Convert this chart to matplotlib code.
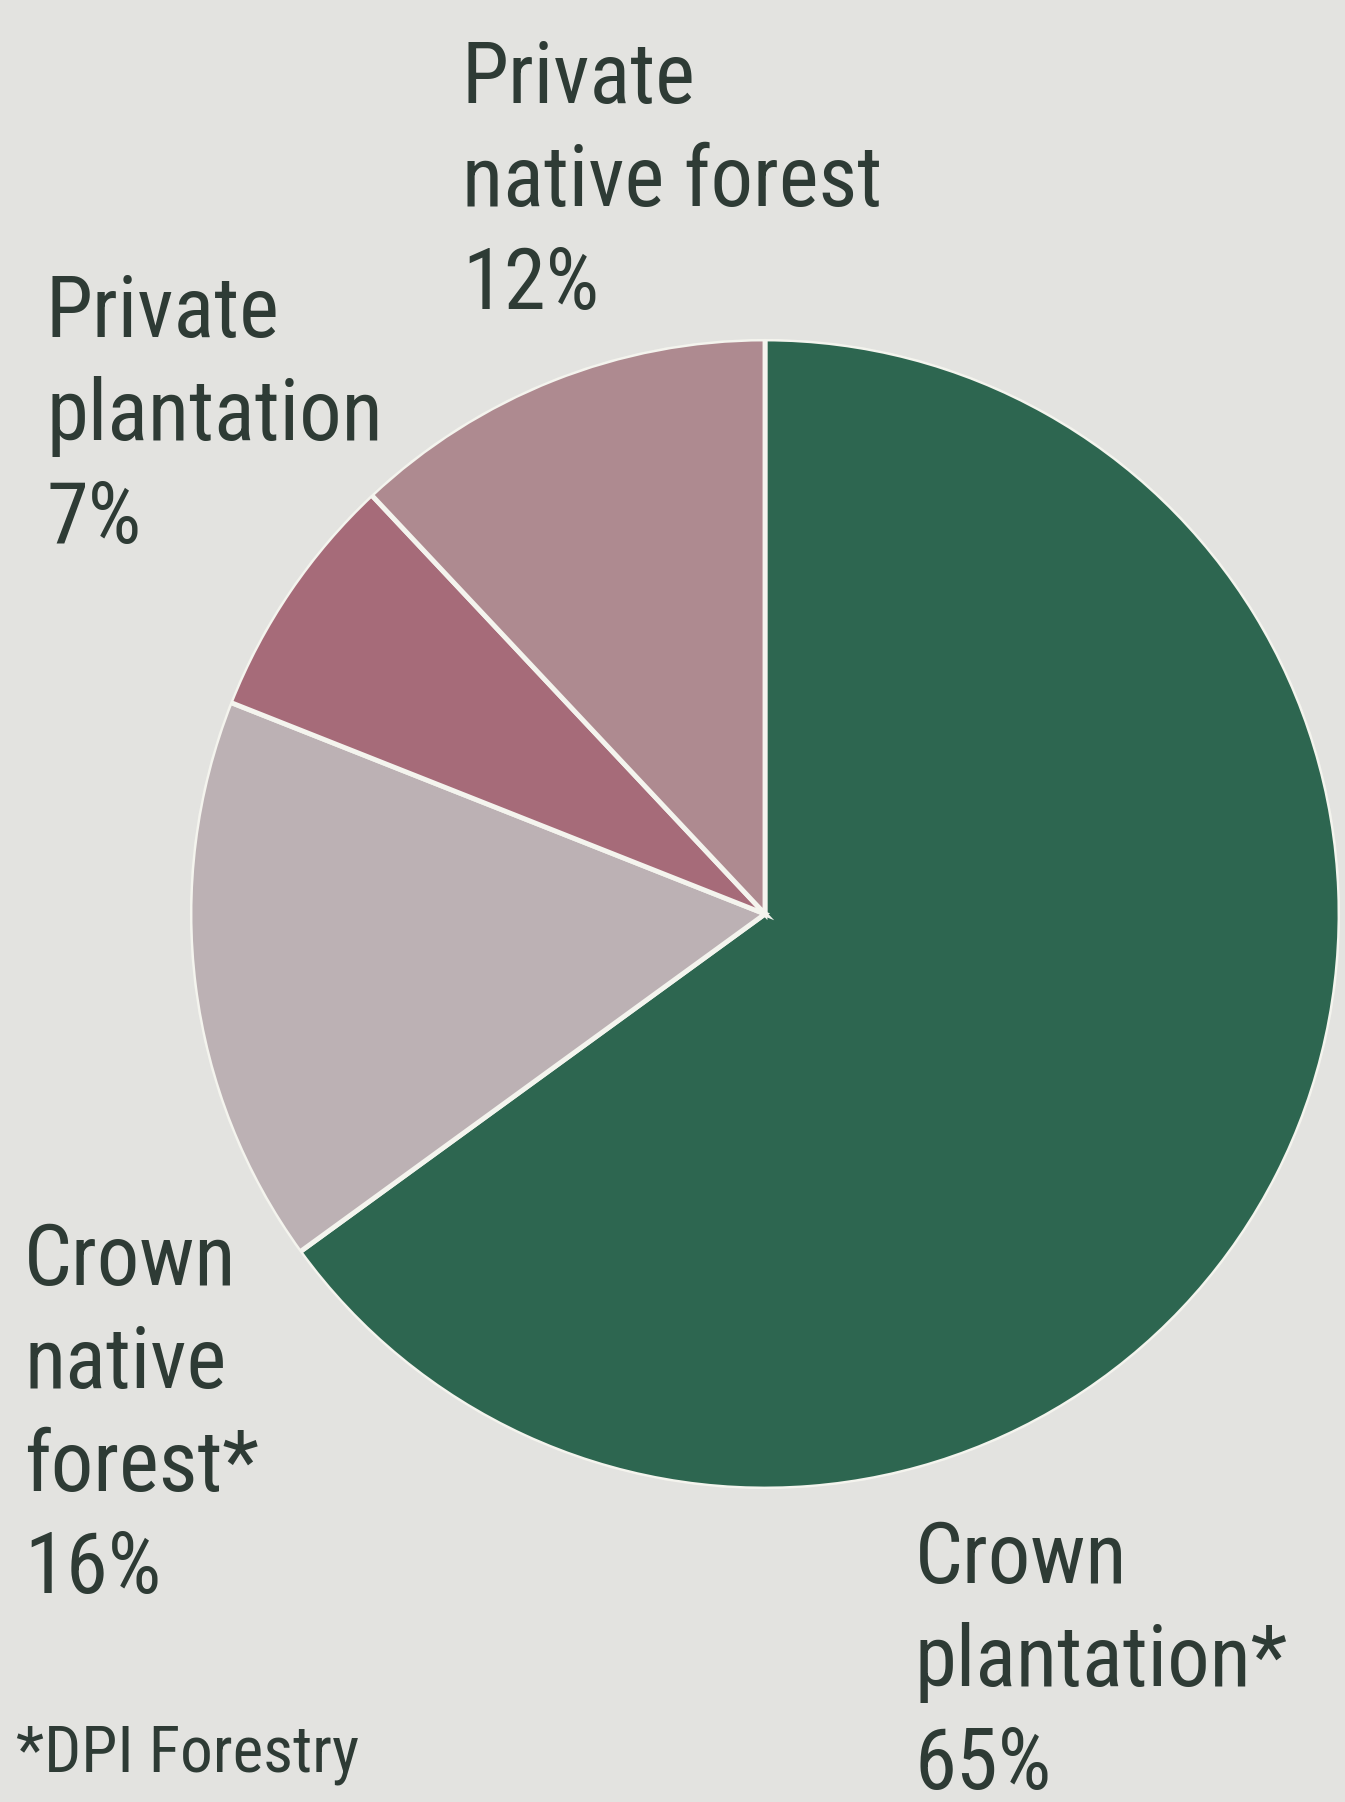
import matplotlib.pyplot as plt
from matplotlib.patches import Circle

# ownership shares, clockwise from 12 o'clock
labels = ["Crown\nplantation*\n65%", "Crown\nnative\nforest*\n16%",
          "Private\nplantation\n7%", "Private\nnative forest\n12%"]
shares = [65, 16, 7, 12]
colors = ["#2d6650", "#bcb1b4", "#a66b79", "#ae8a90"]

bg = "#e3e3e0"
ink = "#2e3b35"
W, H = 1345, 1802

fig = plt.figure(figsize=(W / 100, H / 100), dpi=100, facecolor=bg)
ax = fig.add_axes([0, 0, 1, 1])
ax.set_facecolor(bg)

cx, cy, r = 765, H - 914, 575
ax.pie(shares, colors=colors, startangle=90, counterclock=False,
       center=(cx, cy), radius=r, frame=True,
       wedgeprops=dict(edgecolor="#f4f4ee", linewidth=3.5))
# hide the white outline on the outer rim
ax.add_patch(Circle((cx, cy), r + 2.5, fill=False, edgecolor=bg, linewidth=3.5))

ax.set_xlim(0, W)
ax.set_ylim(0, H)
ax.set_aspect("equal")
ax.axis("off")

font = ["Roboto Condensed", "DejaVu Sans"]
pos = [(915, 1519), (24, 1221), (46, 273), (462, 39)]
for lab, (x, y) in zip(labels, pos):
    fig.text(x / W, 1 - y / H, lab, ha="left", va="top", fontsize=61,
             family=font, color=ink, linespacing=1.34)

fig.text(16 / W, 1 - 1723 / H, "*DPI Forestry", ha="left", va="top",
         fontsize=47, family=font, color=ink)

fig.savefig("out.png", dpi=100, facecolor=bg)
